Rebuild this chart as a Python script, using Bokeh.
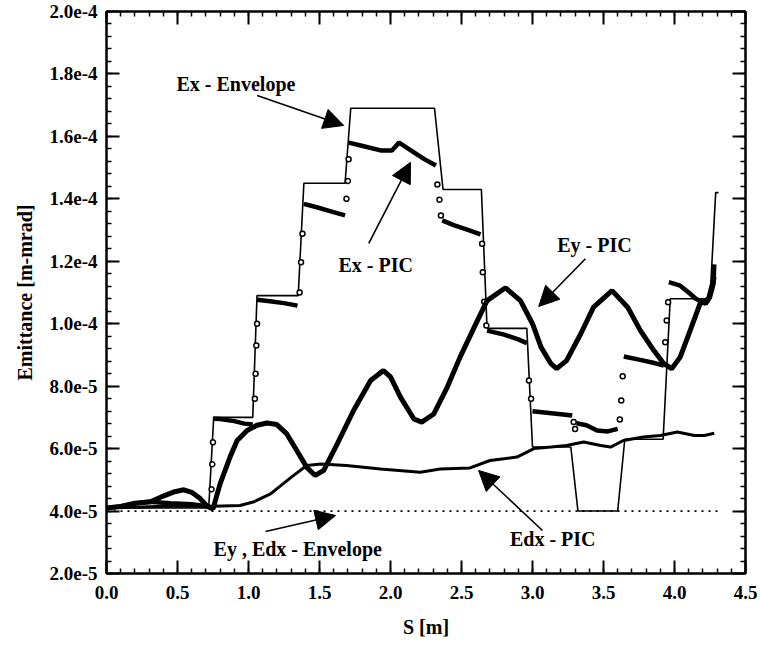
from bokeh.plotting import figure
from bokeh.models import (FixedTicker, LinearAxis, CustomJSTickFormatter, NumeralTickFormatter,
                          Arrow, NormalHead, Label, Range1d, CustomLabelingPolicy)
from bokeh.embed import file_html
from bokeh.resources import INLINE

FONT = "Liberation Serif"

# ---------------- data ----------------
x_ticks = [0.0, 0.5, 1.0, 1.5, 2.0, 2.5, 3.0, 3.5, 4.0, 4.5]
y_ticks = [2e-5, 4e-5, 6e-5, 8e-5, 1e-4, 1.2e-4, 1.4e-4, 1.6e-4, 1.8e-4, 2e-4]

# Ex - Envelope
env_x_s = [0.00, 0.72, 0.755, 1.03, 1.06, 1.35, 1.39, 1.68, 1.72, 2.31, 2.37, 2.64, 2.68,
           2.96, 3.00, 3.27, 3.32, 3.60, 3.65, 3.92, 3.97, 4.25, 4.29, 4.31]
env_x_v = [4.1e-5, 4.1e-5, 7.0e-5, 7.0e-5, 1.09e-4, 1.09e-4, 1.45e-4, 1.45e-4, 1.69e-4, 1.69e-4,
           1.43e-4, 1.43e-4, 9.85e-5, 9.85e-5, 6.05e-5, 6.05e-5, 4.0e-5, 4.0e-5, 6.3e-5, 6.3e-5,
           1.08e-4, 1.08e-4, 1.42e-4, 1.42e-4]

# Ey , Edx - Envelope
env_y_s = [0.0, 4.31]
env_y_v = [4.0e-5, 4.0e-5]

# Ex - PIC (plateaus)
expic_s = [
    [0.0, 0.1, 0.19, 0.3, 0.45, 0.6, 0.72],
    [0.75, 0.8, 0.9, 0.97, 1.03],
    [1.06, 1.15, 1.25, 1.345],
    [1.39, 1.48, 1.58, 1.68],
    [1.706, 1.79, 1.93, 2.01, 2.06, 2.165, 2.235, 2.32],
    [2.364, 2.45, 2.55, 2.634],
    [2.68, 2.8, 2.9, 2.96],
    [3.0, 3.1, 3.2, 3.28],
    [3.31, 3.38, 3.455, 3.53, 3.6],
    [3.643, 3.75, 3.85, 3.925],
    [3.96, 4.04, 4.10, 4.15, 4.22, 4.25, 4.275, 4.28],
]
expic_v = [
    [4.1e-5, 4.15e-5, 4.23e-5, 4.3e-5, 4.25e-5, 4.22e-5, 4.15e-5],
    [6.96e-5, 6.95e-5, 6.88e-5, 6.8e-5, 6.77e-5],
    [1.077e-4, 1.072e-4, 1.066e-4, 1.058e-4],
    [1.384e-4, 1.373e-4, 1.36e-4, 1.347e-4],
    [1.58e-4, 1.571e-4, 1.555e-4, 1.555e-4, 1.58e-4, 1.549e-4, 1.528e-4, 1.507e-4],
    [1.331e-4, 1.315e-4, 1.30e-4, 1.286e-4],
    [9.78e-5, 9.65e-5, 9.5e-5, 9.38e-5],
    [7.2e-5, 7.15e-5, 7.1e-5, 7.06e-5],
    [6.81e-5, 6.75e-5, 6.58e-5, 6.55e-5, 6.63e-5],
    [8.95e-5, 8.85e-5, 8.75e-5, 8.66e-5],
    [1.133e-4, 1.122e-4, 1.10e-4, 1.08e-4, 1.064e-4, 1.085e-4, 1.128e-4, 1.19e-4],
]
# Ex - PIC (isolated points on the transitions)
exdot_s = [0.74, 0.745, 0.75, 1.045, 1.05, 1.055, 1.06, 1.36, 1.37, 1.38, 1.69, 1.70, 1.705,
           2.33, 2.345, 2.355, 2.645, 2.65, 2.66, 2.675, 2.975, 2.99, 3.29, 3.30,
           3.615, 3.625, 3.635, 3.935, 3.945, 3.955]
exdot_v = [4.7e-5, 5.5e-5, 6.2e-5, 7.6e-5, 8.4e-5, 9.3e-5, 1.0e-4, 1.10e-4, 1.197e-4, 1.288e-4,
           1.40e-4, 1.457e-4, 1.527e-4, 1.446e-4, 1.397e-4, 1.347e-4, 1.256e-4, 1.165e-4, 1.07e-4,
           9.94e-5, 8.18e-5, 7.6e-5, 6.85e-5, 6.63e-5, 6.93e-5, 7.54e-5, 8.32e-5,
           9.41e-5, 1.01e-4, 1.069e-4]

# Ey - PIC
eypic_s = [0.0, 0.1, 0.2, 0.31, 0.4, 0.48, 0.545, 0.6, 0.66, 0.71, 0.75, 0.80, 0.87, 0.92, 0.99,
           1.06, 1.13, 1.20, 1.27, 1.34, 1.41, 1.47, 1.53, 1.625, 1.74, 1.86, 1.95, 2.0, 2.07,
           2.165, 2.22, 2.305, 2.40, 2.49, 2.59, 2.68, 2.81, 2.915, 3.0, 3.06, 3.13, 3.17, 3.24,
           3.34, 3.43, 3.56, 3.67, 3.76, 3.855, 3.925, 3.98, 4.04, 4.11, 4.18, 4.24, 4.28]
eypic_v = [4.1e-5, 4.15e-5, 4.25e-5, 4.3e-5, 4.48e-5, 4.62e-5, 4.68e-5, 4.6e-5, 4.4e-5, 4.15e-5,
           4.07e-5, 4.87e-5, 5.73e-5, 6.26e-5, 6.58e-5, 6.75e-5, 6.82e-5, 6.77e-5, 6.47e-5,
           5.94e-5, 5.4e-5, 5.14e-5, 5.3e-5, 6.15e-5, 7.22e-5, 8.18e-5, 8.5e-5, 8.3e-5, 7.65e-5,
           6.95e-5, 6.85e-5, 7.11e-5, 7.97e-5, 8.93e-5, 9.89e-5, 1.074e-4, 1.115e-4, 1.074e-4,
           1.0e-4, 9.25e-5, 8.72e-5, 8.56e-5, 8.82e-5, 9.68e-5, 1.053e-4, 1.106e-4, 1.053e-4,
           9.78e-5, 9.14e-5, 8.72e-5, 8.56e-5, 8.93e-5, 9.78e-5, 1.064e-4, 1.08e-4, 1.15e-4]

# Edx - PIC
edx_s = [0.0, 0.2, 0.4, 0.6, 0.75, 0.94, 1.04, 1.155, 1.30, 1.41, 1.51, 1.69, 1.93, 2.21, 2.35,
         2.56, 2.70, 2.89, 3.01, 3.13, 3.24, 3.36, 3.48, 3.55, 3.64, 3.78, 3.90, 4.02, 4.14,
         4.21, 4.28]
edx_v = [4.1e-5, 4.12e-5, 4.15e-5, 4.15e-5, 4.15e-5, 4.18e-5, 4.3e-5, 4.55e-5, 5.08e-5,
         5.46e-5, 5.51e-5, 5.46e-5, 5.35e-5, 5.24e-5, 5.35e-5, 5.38e-5, 5.62e-5, 5.73e-5,
         6.0e-5, 6.05e-5, 6.1e-5, 6.21e-5, 6.1e-5, 6.05e-5, 6.26e-5, 6.37e-5, 6.42e-5,
         6.53e-5, 6.42e-5, 6.42e-5, 6.49e-5]

# ---------------- figure ----------------
p = figure(width=760, height=648, output_backend="svg", toolbar_location=None,
           x_range=Range1d(0, 4.5), y_range=Range1d(2e-5, 2e-4),
           min_border_left=106, min_border_right=15, min_border_top=11, min_border_bottom=75,
           background_fill_color="white", border_fill_color="white")
p.grid.visible = False
p.outline_line_color = "black"
p.outline_line_width = 2

xt = FixedTicker(ticks=x_ticks, minor_ticks=[i * 0.1 for i in range(46)])
yt = FixedTicker(ticks=y_ticks, minor_ticks=[2e-5 + i * 4e-6 for i in range(46)])


def style(ax, labels=True):
    ax.major_tick_in = 13
    ax.major_tick_out = 0
    ax.minor_tick_in = 5
    ax.minor_tick_out = 0
    ax.axis_line_width = 2
    ax.major_tick_line_width = 2
    ax.minor_tick_line_width = 1.5
    ax.axis_line_color = "black"
    ax.major_tick_line_color = "black"
    ax.minor_tick_line_color = "black"
    if labels:
        ax.major_label_text_font = FONT
        ax.major_label_text_font_style = "bold"
        ax.major_label_text_font_size = "19px"
        ax.major_label_text_color = "black"
        ax.axis_label_text_font = FONT
        ax.axis_label_text_font_style = "bold"
        ax.axis_label_text_font_size = "20px"
        ax.axis_label_text_color = "black"
    else:
        ax.major_label_policy = CustomLabelingPolicy(code="return new Set()")
        ax.formatter = CustomJSTickFormatter(code="return '';")
        ax.major_label_standoff = 0


xa = p.xaxis[0]
xa.ticker = xt
xa.formatter = NumeralTickFormatter(format="0.0")
xa.axis_label = "S [m]"
style(xa)
xa.major_label_standoff = 12
xa.axis_label_standoff = 14

ya = p.yaxis[0]
ya.ticker = yt
ya.formatter = CustomJSTickFormatter(code="return tick.toExponential(1);")
ya.axis_label = "Emittance [m-mrad]"
style(ya)
ya.major_label_standoff = 9
ya.axis_label_standoff = 10

top = LinearAxis(ticker=xt)
style(top, labels=False)
p.add_layout(top, "above")
right = LinearAxis(ticker=yt)
style(right, labels=False)
p.add_layout(right, "right")

# curves
p.line(env_y_s, env_y_v, line_color="black", line_width=1.8, line_dash="2 5")
p.line(edx_s, edx_v, line_color="black", line_width=3)
p.line(env_x_s, env_x_v, line_color="black", line_width=1.6)
p.multi_line(expic_s, expic_v, line_color="black", line_width=4.5)
p.scatter(exdot_s, exdot_v, size=5, marker="circle", line_color="black", fill_color="white",
          line_width=1.5)
p.line(eypic_s, eypic_v, line_color="black", line_width=5)

# annotations
def lab(text, x, y, align="left"):
    p.add_layout(Label(x=x, y=y, text=text, text_font=FONT, text_font_style="bold",
                       text_font_size="20px", text_color="black", text_align=align,
                       text_baseline="middle"))


def arr(x0, y0, x1, y1):
    p.add_layout(Arrow(end=NormalHead(size=20, fill_color="black", line_color="black"),
                       x_start=x0, y_start=y0, x_end=x1, y_end=y1,
                       line_color="black", line_width=1.6))


lab("Ex - Envelope", 0.493, 1.769e-4)
arr(1.061, 1.731e-4, 1.671, 1.635e-4)
lab("Ex - PIC", 1.634, 1.1865e-4)
arr(1.847, 1.257e-4, 2.141, 1.517e-4)
lab("Ey - PIC", 3.174, 1.2506e-4)
arr(3.373, 1.208e-4, 3.044, 1.0552e-4)
lab("Edx - PIC", 3.444, 3.12e-5, align="right")
arr(3.070, 3.377e-5, 2.620, 5.30e-5)
lab("Ey , Edx - Envelope", 0.754, 2.80e-5)
arr(1.12, 3.345e-5, 1.613, 3.858e-5)

open("out.html", "w").write(file_html(p, INLINE))
